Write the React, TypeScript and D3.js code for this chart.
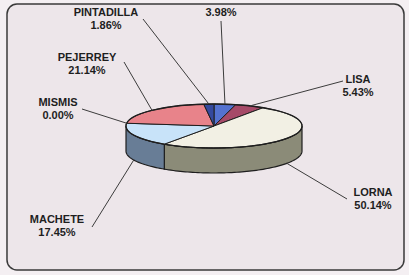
import React from "react";
import * as d3 from "d3";

// slices, clockwise from 12 o'clock
const names = ["", "LISA", "LORNA", "MACHETE", "MISMIS", "PEJERREY", "PINTADILLA"];
const shares = [3.98, 5.43, 50.14, 17.45, 0.0, 21.14, 1.86];

const topColors = ["#5472d0", "#a64a68", "#f2f0e4", "#c8e3f9", "#b9cfe6", "#e8838a", "#34499e"];
const sideColors = ["#3a55a8", "#7c3048", "#8b8b78", "#687d96", "#687d96", "#b05a60", "#243478"];

// where each label block sits (center x, first baseline y)
const labelPos: [number, number][] = [
  [221, 16],
  [358, 83],
  [373, 196],
  [57, 223],
  [58, 106],
  [87, 61],
  [106, 16],
];
// where the leader line meets the label
const leaderEnd: [number, number][] = [
  [221, 21],
  [343, 81],
  [347, 199],
  [92, 227],
  [82, 109],
  [124, 62],
  [143, 19],
];

const W = 409;
const H = 275;
const cx = 214;
const cy = 126;
const rx = 88;
const ry = 22;
const depth = 25;

const px = (a: number) => cx + rx * Math.sin(a);
const py = (a: number) => cy - ry * Math.cos(a);

function arcPoints(a0: number, a1: number, dy = 0) {
  const n = Math.max(2, Math.ceil(Math.abs(a1 - a0) / 0.03));
  return d3.range(n + 1).map((i) => {
    const a = a0 + ((a1 - a0) * i) / n;
    return [px(a), py(a) + dy] as [number, number];
  });
}

function topPath(a0: number, a1: number) {
  const pts = arcPoints(a0, a1);
  return `M${cx},${cy}` + pts.map((p) => `L${p[0]},${p[1]}`).join("") + "Z";
}

function sidePath(a0: number, a1: number) {
  const s = Math.max(a0, Math.PI / 2);
  const e = Math.min(a1, (3 * Math.PI) / 2);
  if (e <= s) return null;
  const upper = arcPoints(s, e);
  const lower = arcPoints(e, s, depth);
  return "M" + upper.concat(lower).map((p) => `${p[0]},${p[1]}`).join("L") + "Z";
}

export default function App() {
  const arcs = d3
    .pie<number>()
    .sort(null)
    .value((d) => d)(shares);

  return (
    <div style={{ position: "absolute", left: 0, top: 0 }}>
      <svg width={W} height={H} style={{ display: "block" }}>
        <rect x={0} y={0} width={W} height={H} fill="#f4eff2" />
        <rect
          x={7}
          y={4}
          width={397}
          height={266}
          rx={10}
          fill="#ede6ea"
          stroke="#3a3a3a"
          strokeWidth={1.5}
        />
        {/* walls */}
        {arcs.map((a, i) => {
          const d = sidePath(a.startAngle, a.endAngle);
          return d ? (
            <path key={"s" + i} d={d} fill={sideColors[i]} stroke="#1e1e1e" strokeWidth={1.2} />
          ) : null;
        })}
        {/* top face */}
        {arcs.map((a, i) =>
          a.endAngle > a.startAngle ? (
            <path
              key={"t" + i}
              d={topPath(a.startAngle, a.endAngle)}
              fill={topColors[i]}
              stroke="#1e1e1e"
              strokeWidth={1}
              strokeLinejoin="round"
            />
          ) : null
        )}
        <ellipse cx={cx} cy={cy} rx={rx} ry={ry} fill="none" stroke="#1e1e1e" strokeWidth={1.3} />
        {/* leaders */}
        {arcs.map((a, i) => {
          const m = (a.startAngle + a.endAngle) / 2;
          const front = Math.cos(m) < -0.2;
          const x0 = px(m);
          const y0 = py(m) + (front ? depth : 0);
          const [x1, y1] = leaderEnd[i];
          return (
            <polyline
              key={"l" + i}
              points={`${x0},${y0} ${x1},${y1}`}
              fill="none"
              stroke="#3c3c3c"
              strokeWidth={1}
            />
          );
        })}
        {/* labels */}
        {arcs.map((a, i) => {
          const [lx, ly] = labelPos[i];
          return (
            <text
              key={"x" + i}
              x={lx}
              y={ly}
              textAnchor="middle"
              fontFamily="'Liberation Sans', Arial, sans-serif"
              fontWeight="bold"
              fontSize={11}
              fill="#1e1e1e"
            >
              {names[i] ? <tspan x={lx}>{names[i]}</tspan> : null}
              <tspan x={lx} dy={names[i] ? 13 : 0}>
                {shares[i].toFixed(2) + "%"}
              </tspan>
            </text>
          );
        })}
      </svg>
    </div>
  );
}
